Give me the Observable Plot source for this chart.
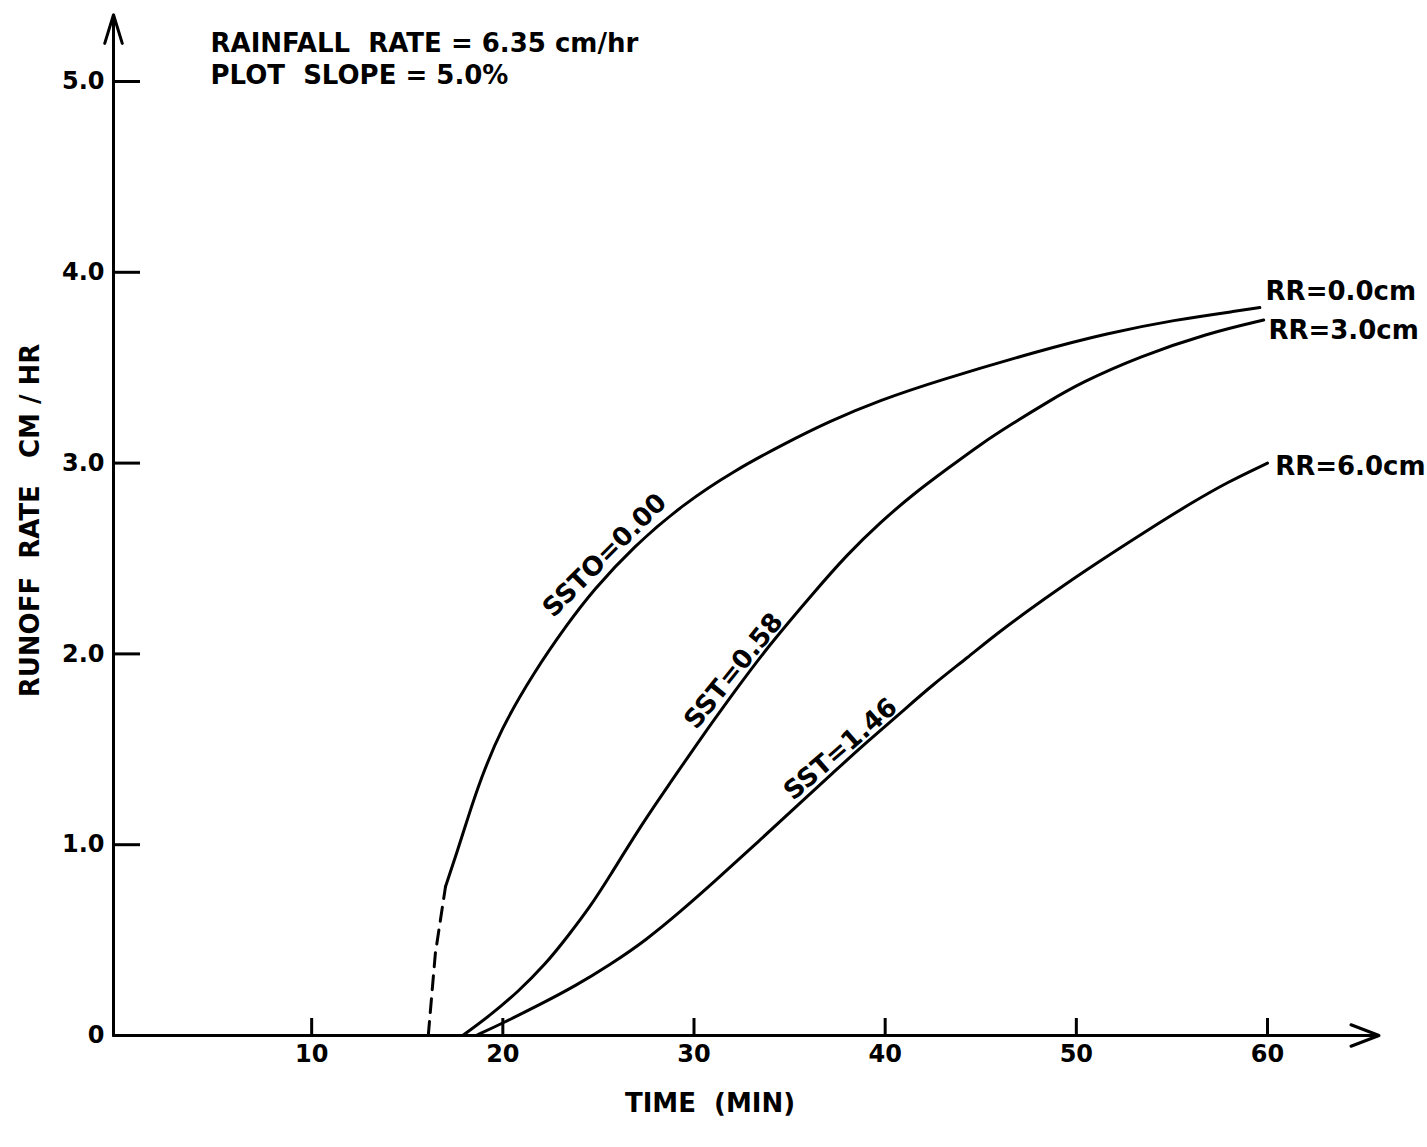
<!DOCTYPE html>
<html><head><meta charset="utf-8">
<script src="https://cdn.jsdelivr.net/npm/d3@7"></script>
<script src="https://cdn.jsdelivr.net/npm/@observablehq/plot@0.6"></script>
<style>body{margin:0;background:#fff} svg text{white-space:pre}</style>
</head><body><div id="chart"></div>
<script>
// ---- data ----
const xTicks = [10, 20, 30, 40, 50, 60];
const yTicks = [0, 1, 2, 3, 4, 5];
const yTickLabels = ["0", "1.0", "2.0", "3.0", "4.0", "5.0"];

// SSTO = 0.00 (RR = 0.0 cm): dashed start, then solid
const sst000Dashed = [
  {t: 16.1, v: 0}, {t: 16.47, v: 0.43}, {t: 17.0, v: 0.78}
];
const sst000 = [
  {t: 17.0, v: 0.78}, {t: 17.57, v: 0.95}, {t: 18.2, v: 1.15}, {t: 18.83, v: 1.34},
  {t: 19.87, v: 1.60}, {t: 21.6, v: 1.90}, {t: 23.4, v: 2.16}, {t: 24.7, v: 2.33},
  {t: 26.8, v: 2.56}, {t: 29.5, v: 2.79}, {t: 32.1, v: 2.96}, {t: 34.7, v: 3.10},
  {t: 37.1, v: 3.22}, {t: 39.75, v: 3.33}, {t: 42.7, v: 3.43}, {t: 48.1, v: 3.59},
  {t: 51.6, v: 3.68}, {t: 55.1, v: 3.75}, {t: 58.6, v: 3.80}, {t: 59.6, v: 3.815}
];
// SST = 0.58 (RR = 3.0 cm)
const sst058 = [
  {t: 17.9, v: 0}, {t: 19.4, v: 0.11}, {t: 20.8, v: 0.23}, {t: 22.2, v: 0.37},
  {t: 23.4, v: 0.52}, {t: 24.6, v: 0.68}, {t: 25.5, v: 0.82}, {t: 27.35, v: 1.12},
  {t: 28.8, v: 1.33}, {t: 30.3, v: 1.55}, {t: 32.1, v: 1.80}, {t: 33.8, v: 2.03},
  {t: 36.25, v: 2.32}, {t: 38.0, v: 2.52}, {t: 39.75, v: 2.69}, {t: 41.5, v: 2.84},
  {t: 43.25, v: 2.97}, {t: 45.0, v: 3.10}, {t: 46.7, v: 3.21}, {t: 48.5, v: 3.32},
  {t: 50.2, v: 3.42}, {t: 53.35, v: 3.56}, {t: 56.85, v: 3.68}, {t: 59.8, v: 3.75}
];
// SST = 1.46 (RR = 6.0 cm)
const sst146 = [
  {t: 18.6, v: 0}, {t: 20.0, v: 0.065}, {t: 22.0, v: 0.165}, {t: 23.8, v: 0.26},
  {t: 25.6, v: 0.37}, {t: 27.5, v: 0.50}, {t: 29.3, v: 0.65}, {t: 31.0, v: 0.80},
  {t: 33.3, v: 1.01}, {t: 35.56, v: 1.22}, {t: 37.3, v: 1.38}, {t: 39.07, v: 1.54},
  {t: 40.8, v: 1.69}, {t: 42.5, v: 1.84}, {t: 44.3, v: 1.98}, {t: 46.0, v: 2.12},
  {t: 48.5, v: 2.30}, {t: 50.2, v: 2.42}, {t: 53.9, v: 2.66}, {t: 56.0, v: 2.79},
  {t: 57.9, v: 2.90}, {t: 60.0, v: 3.00}
];

const curveLabels = [
  {text: "SSTO=0.00", t: 25.9, v: 2.46, angle: -45},
  {text: "SST=0.58", t: 32.7, v: 1.86, angle: -51},
  {text: "SST=1.46", t: 38.2, v: 1.44, angle: -41}
];
const endLabels = [
  {text: "RR=0.0cm", t: 59.9, v: 3.90},
  {text: "RR=3.0cm", t: 60.05, v: 3.695},
  {text: "RR=6.0cm", t: 60.4, v: 2.98}
];
const yAxisArrow = [{x1: 0, y1: 0, x2: 0, y2: 5.35}];
const xAxisArrow = [{x1: 0, y1: 0, x2: 66.2, y2: 0}];
const noteLines = ["RAINFALL  RATE = 6.35 cm/hr", "PLOT  SLOPE = 5.0%"];
const xLabel = "TIME  (MIN)";
const yLabel = "RUNOFF  RATE   CM / HR";

// ---- chart ----
const labelGap = 7;
const labelMarks = curveLabels.map(d => {
  const a = d.angle * Math.PI / 180;
  return Plot.text([d], {x: "t", y: "v", text: "text", rotate: d.angle,
    textAnchor: "middle", lineAnchor: "bottom", fontSize: 26,
    dx: labelGap * Math.sin(a), dy: -labelGap * Math.cos(a)});
});

const chart = Plot.plot({
  width: 1427, height: 1147,
  marginLeft: 120, marginRight: 160, marginTop: 81, marginBottom: 112,
  x: {domain: [0, 60], label: null},
  y: {domain: [0, 5], label: null},
  style: {fontFamily: "'DejaVu Sans', sans-serif", fontSize: "24px", fontWeight: "bold", color: "#000", background: "#fff"},
  marks: [
    Plot.axisX(xTicks, {tickSize: -17, tickFormat: () => "", strokeWidth: 3, label: null}),
    Plot.axisX(xTicks, {tickSize: 0, tickPadding: 9, fontSize: 24, label: null}),
    Plot.axisY(yTicks, {tickSize: -27, dx: -7, tickFormat: () => "", strokeWidth: 3, label: null}),
    Plot.axisY(yTicks, {tickSize: 0, tickPadding: 9, dx: -7, fontSize: 24, label: null,
      tickFormat: d => yTickLabels[yTicks.indexOf(d)]}),
    Plot.arrow(yAxisArrow, {x1: "x1", y1: "y1", x2: "x2", y2: "y2", dx: -7,
      stroke: "#000", strokeWidth: 3, headLength: 15, headAngle: 34}),
    Plot.arrow(xAxisArrow, {x1: "x1", y1: "y1", x2: "x2", y2: "y2", dx: -7,
      stroke: "#000", strokeWidth: 3, headLength: 15, headAngle: 42}),
    Plot.line(sst000Dashed, {x: "t", y: "v", stroke: "#000", strokeWidth: 3, strokeDasharray: "14,9"}),
    Plot.line(sst000, {x: "t", y: "v", curve: "basis", stroke: "#000", strokeWidth: 3}),
    Plot.line(sst058, {x: "t", y: "v", curve: "basis", stroke: "#000", strokeWidth: 3}),
    Plot.line(sst146, {x: "t", y: "v", curve: "basis", stroke: "#000", strokeWidth: 3}),
    ...labelMarks,
    Plot.text(endLabels, {x: "t", y: "v", text: "text", textAnchor: "start", lineAnchor: "middle", fontSize: 26}),
    Plot.text([noteLines[0]], {frameAnchor: "top-left", dx: 90, dy: -38, textAnchor: "start", lineAnchor: "middle", fontSize: 26}),
    Plot.text([noteLines[1]], {frameAnchor: "top-left", dx: 90, dy: -6, textAnchor: "start", lineAnchor: "middle", fontSize: 26}),
    Plot.text([xLabel], {frameAnchor: "bottom", dx: 16, dy: 68, textAnchor: "middle", lineAnchor: "middle", fontSize: 26}),
    Plot.text([yLabel], {frameAnchor: "left", dx: -90, dy: -38, rotate: -90, textAnchor: "middle", lineAnchor: "middle", fontSize: 26})
  ]
});
document.getElementById("chart").appendChild(chart);
</script>
</body></html>
